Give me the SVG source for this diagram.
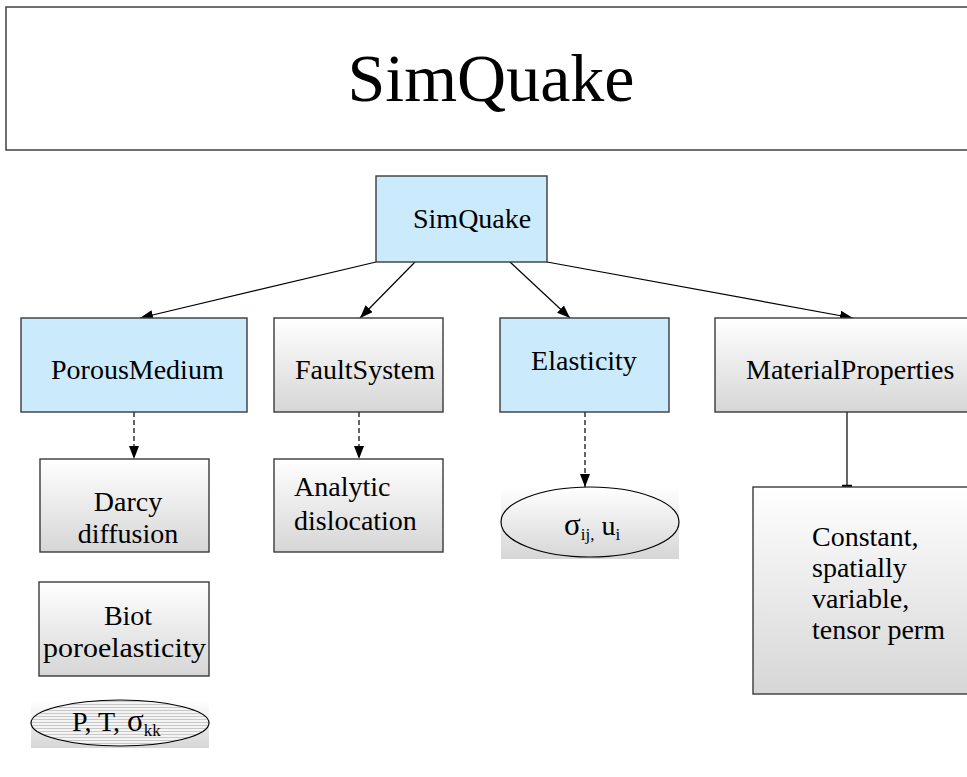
<svg xmlns="http://www.w3.org/2000/svg" width="967" height="777" viewBox="0 0 967 777">
<defs>
<linearGradient id="g" x1="0" y1="0" x2="0" y2="1"><stop offset="0" stop-color="#ffffff"/><stop offset="1" stop-color="#d6d6d6"/></linearGradient>
<pattern id="h" width="8" height="3" patternUnits="userSpaceOnUse"><rect width="8" height="3" fill="#f4f4f4"/><rect y="2" width="8" height="1" fill="#c8c8c8"/></pattern>
<marker id="a" viewBox="0 0 13 10" refX="13" refY="5" markerWidth="13" markerHeight="10" markerUnits="userSpaceOnUse" orient="auto"><path d="M0,0 L13,5 L0,10 Z" fill="#000"/></marker>
</defs>
<style>
.t{font-family:"Liberation Serif","Times New Roman",serif;fill:#000}
.n{font-size:28px}
.box{stroke:#3a3a3a;stroke-width:1.4}
.blue{fill:#cbebfd}
.gray{fill:url(#g)}
.e{stroke:#000;stroke-width:1.2;fill:none}
.ln{stroke:#000;stroke-width:1.2;fill:none}
.d{stroke-dasharray:5 3}
.sg{font-size:31px}
.sub{font-size:17px}
</style>
<rect width="967" height="777" fill="#fff"/>
<g id="title">
<rect x="6" y="7" width="970" height="143" fill="#fff" stroke="#404040" stroke-width="1.5"/>
<text class="t" x="491" y="101" font-size="68" text-anchor="middle">SimQuake</text>
</g>
<g id="connectors">
<line class="ln" x1="376" y1="262" x2="140" y2="318" marker-end="url(#a)"/>
<line class="ln" x1="415" y1="262" x2="360" y2="318" marker-end="url(#a)"/>
<line class="ln" x1="510" y1="262" x2="570" y2="318" marker-end="url(#a)"/>
<line class="ln" x1="547" y1="262" x2="853" y2="318" marker-end="url(#a)"/>
<line class="ln d" x1="134" y1="412" x2="134" y2="459" marker-end="url(#a)"/>
<line class="ln d" x1="359" y1="412" x2="359" y2="459" marker-end="url(#a)"/>
<line class="ln d" x1="585" y1="412" x2="585" y2="487" marker-end="url(#a)"/>
<line class="ln" x1="847" y1="412" x2="847" y2="486"/>
<line x1="842" y1="486" x2="852" y2="486" stroke="#000" stroke-width="2.5"/>
</g>
<g id="simquake">
<rect class="box blue" x="376" y="176" width="171" height="86"/>
<text class="t n" x="413" y="228">SimQuake</text>
</g>
<g id="porousmedium">
<rect class="box blue" x="21" y="318" width="226" height="94"/>
<text class="t n" x="51" y="379">PorousMedium</text>
</g>
<g id="faultsystem">
<rect class="box gray" x="274" y="318" width="169" height="94"/>
<text class="t n" x="295" y="379">FaultSystem</text>
</g>
<g id="elasticity">
<rect class="box blue" x="500" y="318" width="169" height="94"/>
<text class="t n" x="584" y="370" text-anchor="middle">Elasticity</text>
</g>
<g id="materialproperties">
<rect class="box gray" x="715" y="318" width="260" height="94"/>
<text class="t n" x="746" y="379">MaterialProperties</text>
</g>
<g id="darcy">
<rect class="box gray" x="40" y="459" width="169" height="93"/>
<text class="t n" x="128" y="511" text-anchor="middle">Darcy</text>
<text class="t n" x="128" y="543" text-anchor="middle">diffusion</text>
</g>
<g id="analytic">
<rect class="box gray" x="274" y="459" width="169" height="93"/>
<text class="t n" x="294" y="496">Analytic</text>
<text class="t n" x="294" y="530">dislocation</text>
</g>
<g id="stress">
<rect x="501" y="487" width="178" height="72" fill="url(#g)"/>
<ellipse class="e" cx="590" cy="522" rx="89" ry="35"/>
<text class="t n" x="564" y="535"><tspan class="sg">σ</tspan><tspan class="sub" dy="5">ij,</tspan><tspan dy="-5"> u</tspan><tspan class="sub" dy="5">i</tspan></text>
</g>
<g id="constant">
<rect class="box gray" x="753" y="487" width="230" height="207"/>
<text class="t n" x="812" y="546">Constant,</text>
<text class="t n" x="812" y="577">spatially</text>
<text class="t n" x="812" y="608">variable,</text>
<text class="t n" x="812" y="639">tensor perm</text>
</g>
<g id="biot">
<rect class="box gray" x="39" y="582" width="170" height="94"/>
<text class="t n" x="128" y="625" text-anchor="middle">Biot</text>
<text class="t n" x="43" y="657" textLength="163" lengthAdjust="spacingAndGlyphs">poroelasticity</text>
</g>
<g id="ptsigma">
<rect x="31" y="700" width="178" height="48" fill="url(#g)"/>
<ellipse cx="120" cy="723" rx="89" ry="23" fill="url(#h)" stroke="#000" stroke-width="1.2"/>
<text class="t n" x="72" y="731">P, T, <tspan class="sg">σ</tspan><tspan class="sub" dy="5">kk</tspan></text>
</g>
</svg>
